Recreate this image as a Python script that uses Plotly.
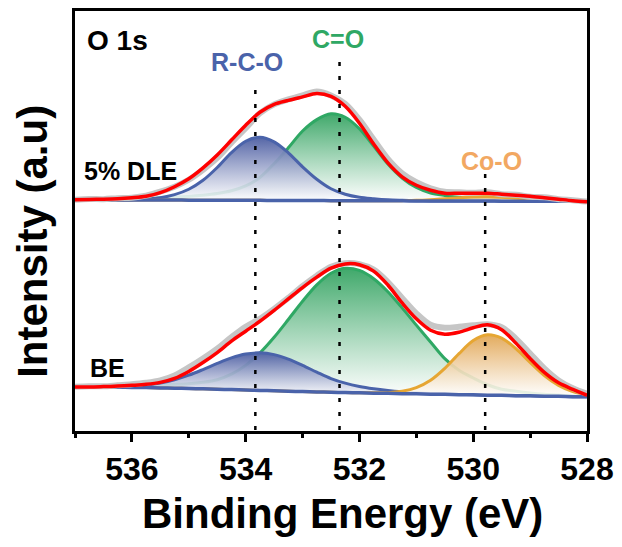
import plotly.graph_objects as go

# ---------------------------------------------------------------- data
binding_energy = [537.0, 536.75, 536.5, 536.25, 536.0, 535.75, 535.5, 535.25, 535.0,
                  534.75, 534.5, 534.25, 534.0, 533.75, 533.5, 533.25, 533.0, 532.75,
                  532.5, 532.25, 532.0, 531.75, 531.5, 531.25, 531.0, 530.75, 530.5,
                  530.25, 530.0, 529.75, 529.5, 529.25, 529.0, 528.75, 528.5, 528.25, 528.0]

# 5% DLE (upper spectrum, offset)
dle_background = [232.8, 232.8, 232.7, 232.7, 232.7, 232.6, 232.6, 232.6, 232.5,
                  232.5, 232.4, 232.4, 232.3, 232.3, 232.2, 232.2, 232.1,
                  232.1, 232.0, 232.0, 231.9, 231.9, 231.8, 231.8, 231.7,
                  231.7, 231.7, 231.6, 231.6, 231.6, 231.5, 231.5, 231.5, 231.5, 231.4, 231.4, 231.4]
dle_rco = [0, 0, 0, 0.1, 0.3, 0.9, 2.4, 5.5, 11, 20, 33, 48, 59.5, 63.5, 59, 48, 34, 21.5,
           12, 6.5, 3.5, 2, 1, 0.5, 0.2, 0, 0, 0, 0, 0, 0, 0, 0, 0, 0, 0, 0]
dle_co = [0.3, 0.4, 0.5, 0.7, 1.0, 1.4, 2.0, 2.8, 3.8, 5.0, 6.8, 9.5, 14.5, 23, 37, 53, 70,
          81.5, 87.5, 84, 72.5, 55, 37, 23, 13.5, 8, 5.5, 3.8, 2.7, 2.0, 1.5, 1.1, 0.8,
          0.6, 0.4, 0.3, 0.2]
dle_coo = [0, 0, 0, 0, 0, 0, 0, 0, 0, 0, 0, 0, 0, 0, 0, 0, 0, 0, 0, 0, 0, 0, 0,
           0.2, 0.6, 1.3, 2.3, 3.4, 4.3, 4.5, 4.0, 3.0, 1.9, 1.0, 0.4, 0.2, 0.1]
dle_envelope = [233.0, 233.2, 233.5, 234.0, 235.0, 236.5, 240.0, 246.0, 254.0, 265.0,
                278.0, 293.0, 308.0, 321.0, 329.0, 333.0, 336.5, 340.0, 337.0, 327.0,
                310.0, 289.0, 270.0, 256.0, 247.5, 242.5, 239.5, 239.5, 239.5, 239.5,
                238.5, 237.5, 236.5, 235.0, 233.5, 232.0, 231.0]
dle_raw = [233.0, 233.7, 233.5, 234.5, 235.0, 237.0, 241.0, 246.0, 253.0, 263.0,
           275.0, 290.5, 305.0, 320.0, 329.0, 334.0, 338.0, 342.0, 338.0, 329.5,
           313.5, 293.5, 274.0, 259.5, 250.5, 244.5, 241.0, 240.5, 240.0, 240.5,
           238.5, 238.0, 236.0, 235.5, 233.5, 232.5, 231.0]

# BE (lower spectrum)
be_background = [44.5, 44.4, 44.3, 44.1, 43.9, 43.7, 43.4, 43.1, 42.8, 42.5, 42.1, 41.7,
                 41.3, 40.9, 40.5, 40.1, 39.7, 39.4, 39.0, 38.7, 38.4, 38.1, 37.9, 37.6,
                 37.4, 37.1, 36.9, 36.6, 36.4, 36.1, 35.9, 35.6, 35.4, 35.1, 34.9, 34.6, 34.4]
be_rco = [0, 0.1, 0.3, 0.6, 1.4, 2.7, 5.0, 8.5, 13.4, 19.4, 25.9, 31.9, 36.2, 37.8, 36.4,
          32.3, 26.4, 19.9, 13.8, 9.5, 6.5, 4.5, 3.0, 2.0, 1.2, 0.7, 0.4, 0.2, 0.1,
          0, 0, 0, 0, 0, 0, 0, 0]
be_co = [0.8, 1.0, 1.2, 1.5, 1.9, 2.4, 3.0, 3.8, 4.8, 6.5, 9.5, 15.5, 24.8, 37.7, 53.9,
         72.2, 91.0, 107.8, 119.9, 125.2, 123.3, 115.3, 102.4, 86.4, 69.2, 52.6, 36.0,
         24.5, 17.0, 10.5, 6.2, 4.5, 3.0, 2.0, 1.3, 0.8, 0.5]
be_coo = [0, 0, 0, 0, 0, 0, 0, 0, 0, 0, 0, 0, 0, 0, 0, 0, 0, 0, 0, 0,
          0.2, 0.5, 0.7, 2.4, 6.3, 14.0, 26.2, 41.3, 54.7, 60.9, 57.7, 47.3, 33.6,
          20.7, 11.0, 5.1, 2.1]
be_envelope = [44.3, 44.3, 44.7, 45.2, 46.0, 47.0, 49.0, 53.0, 60.0, 69.0, 79.0, 90.5,
               100.5, 110.5, 121.5, 133.0, 144.5, 155.0, 164.0, 168.3, 167.5, 161.0,
               147.0, 129.0, 113.0, 101.5, 97.5, 99.5, 104.0, 107.0, 102.0, 88.5, 73.0,
               59.0, 48.5, 42.0, 36.0]
be_raw = [44.5, 45.0, 45.0, 46.0, 47.0, 48.5, 51.0, 56.0, 64.0, 73.0, 83.0, 94.5,
          105.0, 113.0, 123.0, 134.0, 146.0, 156.5, 165.5, 169.0, 168.0, 162.5, 150.0,
          134.0, 118.5, 107.0, 104.0, 105.0, 106.5, 107.5, 104.5, 93.0, 78.0, 63.0,
          51.0, 43.0, 37.5]

peak_names = ["R-C-O", "C=O", "Co-O"]
peak_energies = [533.83, 532.35, 529.79]
sample_names = ["5% DLE", "BE"]
x_major_ticks = [536, 534, 532, 530, 528]
x_minor_ticks = [537, 535, 533, 531, 529]

# ---------------------------------------------------------------- styles
FONT = "Liberation Sans, Arial, sans-serif"
RCO_BLUE = "#4A63AA"
CO_GREEN = "#2FA864"
COO_ORANGE = "#E6A633"
LABEL_ORANGE = "#F2A862"
WHITE_FADE = "rgba(255,255,255,0.88)"

component_styles = {
    "C=O": (CO_GREEN, "rgba(58,166,102,0.97)"),
    "R-C-O": (RCO_BLUE, "rgba(80,97,164,0.97)"),
    "Co-O": (COO_ORANGE, "rgba(226,168,88,0.97)"),
}
SMOOTH = dict(shape="spline", smoothing=0.9)

fig = go.Figure()


def add_component(background, peak, name):
    line_color, top_fill = component_styles[name]
    curve = [b + p for b, p in zip(background, peak)]
    fig.add_trace(go.Scatter(x=binding_energy, y=background, mode="lines",
                             line=dict(width=0, color="rgba(0,0,0,0)", **SMOOTH),
                             hoverinfo="skip", showlegend=False))
    fig.add_trace(go.Scatter(x=binding_energy, y=curve, mode="lines", name=name,
                             line=dict(color=line_color, width=3, **SMOOTH),
                             fill="tonexty",
                             fillgradient=dict(type="vertical",
                                               colorscale=[[0, WHITE_FADE], [1, top_fill]]),
                             showlegend=False))


def add_spectrum(background, rco, co, coo, raw, envelope):
    add_component(background, co, "C=O")
    add_component(background, rco, "R-C-O")
    add_component(background, coo, "Co-O")
    fig.add_trace(go.Scatter(x=binding_energy, y=background, mode="lines",
                             line=dict(color=RCO_BLUE, width=3.5, **SMOOTH),
                             showlegend=False))
    fig.add_trace(go.Scatter(x=binding_energy, y=raw, mode="lines",
                             line=dict(color="#C6C6C6", width=6, **SMOOTH),
                             showlegend=False))
    fig.add_trace(go.Scatter(x=binding_energy, y=envelope, mode="lines",
                             line=dict(color="#FF0000", width=3.5, **SMOOTH),
                             showlegend=False))


add_spectrum(dle_background, dle_rco, dle_co, dle_coo, dle_raw, dle_envelope)
add_spectrum(be_background, be_rco, be_co, be_coo, be_raw, be_envelope)

# dotted guides at the component binding energies
guide_tops = [351, 374, 259]
for energy, top in zip(peak_energies, guide_tops):
    fig.add_shape(type="line", xref="x", yref="y", x0=energy, x1=energy, y0=1, y1=top,
                  line=dict(color="black", width=2.5, dash="4px,10px"), layer="above")

# ---------------------------------------------------------------- text
label_font = dict(family=FONT, size=25, weight="bold")
peak_label_pos = {"R-C-O": (533.98, 372, RCO_BLUE),
                  "C=O": (532.38, 394.5, CO_GREEN),
                  "Co-O": (529.68, 272, LABEL_ORANGE)}
for name in peak_names:
    x, y, color = peak_label_pos[name]
    fig.add_annotation(x=x, y=y, xref="x", yref="y", text=name, showarrow=False,
                       xanchor="center", yanchor="middle",
                       font=dict(label_font, color=color))

sample_label_pos = {"5% DLE": (536.87, 262), "BE": (536.78, 63)}
for name in sample_names:
    x, y = sample_label_pos[name]
    fig.add_annotation(x=x, y=y, xref="x", yref="y", text=name, showarrow=False,
                       xanchor="left", yanchor="middle",
                       font=dict(label_font, color="black"))

fig.add_annotation(x=536.83, y=393.5, xref="x", yref="y", text="O 1s", showarrow=False,
                   xanchor="left", yanchor="middle",
                   font=dict(family=FONT, size=28, weight="bold", color="black"))

fig.add_annotation(x=0.523, y=-0.196, xref="paper", yref="paper",
                   text="Binding Energy (eV)", showarrow=False,
                   xanchor="center", yanchor="middle",
                   font=dict(family=FONT, size=42, weight="bold", color="black"))
fig.add_annotation(x=-0.083, y=0.4515, xref="paper", yref="paper",
                   text="Intensity (a.u)", showarrow=False, textangle=-90,
                   xanchor="center", yanchor="middle",
                   font=dict(family=FONT, size=42, weight="bold", color="black"))

# ---------------------------------------------------------------- axes
fig.update_xaxes(range=[537, 528], tickmode="array", tickvals=x_major_ticks,
                 ticktext=[str(t) for t in x_major_ticks],
                 ticks="outside", ticklen=8, tickwidth=3, tickcolor="black",
                 minor=dict(tickmode="array", tickvals=x_minor_ticks,
                            ticks="outside", ticklen=4, tickwidth=2.5, tickcolor="black",
                            showgrid=False),
                 showline=True, linewidth=3, linecolor="black", mirror=True,
                 showgrid=False, zeroline=False,
                 tickfont=dict(family=FONT, size=32, weight="bold", color="black"))
fig.update_yaxes(range=[0, 423], showticklabels=False, ticks="",
                 showline=True, linewidth=3, linecolor="black", mirror=True,
                 showgrid=False, zeroline=False)

fig.update_layout(width=622, height=547,
                  margin=dict(l=75, r=31, t=8, b=116),
                  plot_bgcolor="white", paper_bgcolor="white",
                  showlegend=False)

fig.write_html("out.html")
